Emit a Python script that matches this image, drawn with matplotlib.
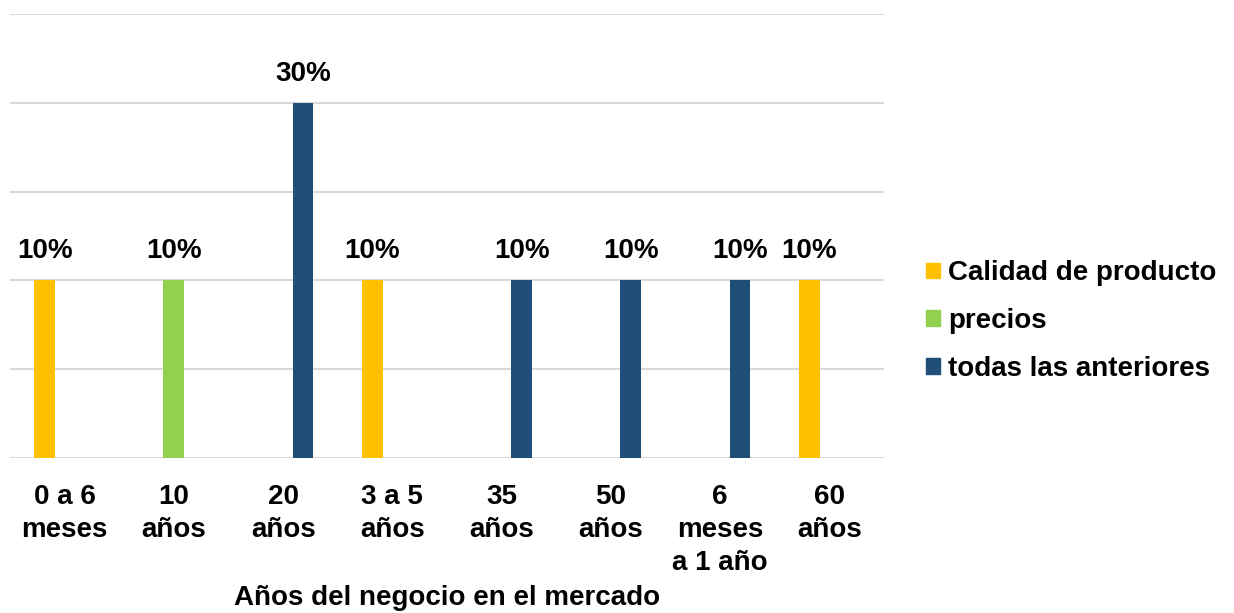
import numpy as np
import matplotlib.pyplot as plt
from matplotlib.patches import Patch

plt.rcParams['font.family'] = ['Liberation Sans', 'DejaVu Sans']
plt.rcParams['font.weight'] = 'bold'

categories = ['0 a 6\nmeses', '10\naños', '20\naños', '3 a 5\naños', '35\naños',
              '50\naños', '6\nmeses\na 1 año', '60\naños']
series_names = ['Calidad de producto', 'precios', 'todas las anteriores']
calidad = [1, 0, 0, 1, 0, 0, 0, 1]
precios = [0, 1, 0, 0, 0, 0, 0, 0]
todas = [0, 0, 2, 0, 1, 1, 1, 0]
calidad_lbl = ['10%', '', '', '10%', '', '', '', '10%']
precios_lbl = ['', '10%', '', '', '', '', '', '']
todas_lbl = ['', '', '30%', '', '10%', '10%', '10%', '']
colors = ['#FFC000', '#92D050', '#1F4E79']

fig = plt.figure(figsize=(12.34, 6.13), dpi=100)
ax = fig.add_axes([10/1234, 1 - 458/613, 874/1234, 444/613])

x = np.arange(len(categories))
w = 0.19
series = [calidad, precios, todas]
labels = [calidad_lbl, precios_lbl, todas_lbl]
for i in range(3):
    bars = ax.bar(x + (i - 1) * 0.183, series[i], width=w, color=colors[i], zorder=3)
    for b, lbl in zip(bars, labels[i]):
        if lbl:
            ax.text(b.get_x() + b.get_width() / 2, b.get_height() + 0.09, lbl,
                    ha='center', va='bottom', fontsize=20, fontweight='bold')

ax.set_xlim(-0.5, len(categories) - 0.5)
ax.set_ylim(0, 2.5)
ax.set_yticks(np.arange(0, 2.51, 0.5))
ax.yaxis.grid(True, color='#D9D9D9', linewidth=1.5, zorder=0)
ax.tick_params(axis='y', left=False, labelleft=False)
ax.set_xticks(x)
ax.set_xticklabels(categories, fontsize=20, fontweight='bold', linespacing=1.35)
ax.tick_params(axis='x', length=0, pad=19)
for s in ax.spines.values():
    s.set_visible(False)

fig.text(447/1234, 1 - 605/613, 'Años del negocio en el mercado', ha='center',
         va='baseline', fontsize=20, fontweight='bold')

handles = [Patch(color=c) for c in colors]
fig.legend(handles, series_names, loc='center left', bbox_to_anchor=(926/1234, 1 - 321/613),
           frameon=False, handlelength=0.5, handleheight=0.5,
           handletextpad=0.3, labelspacing=0.78, borderaxespad=0, borderpad=0,
           prop={'weight': 'bold', 'size': 20})

fig.savefig('out.png', dpi=100)
